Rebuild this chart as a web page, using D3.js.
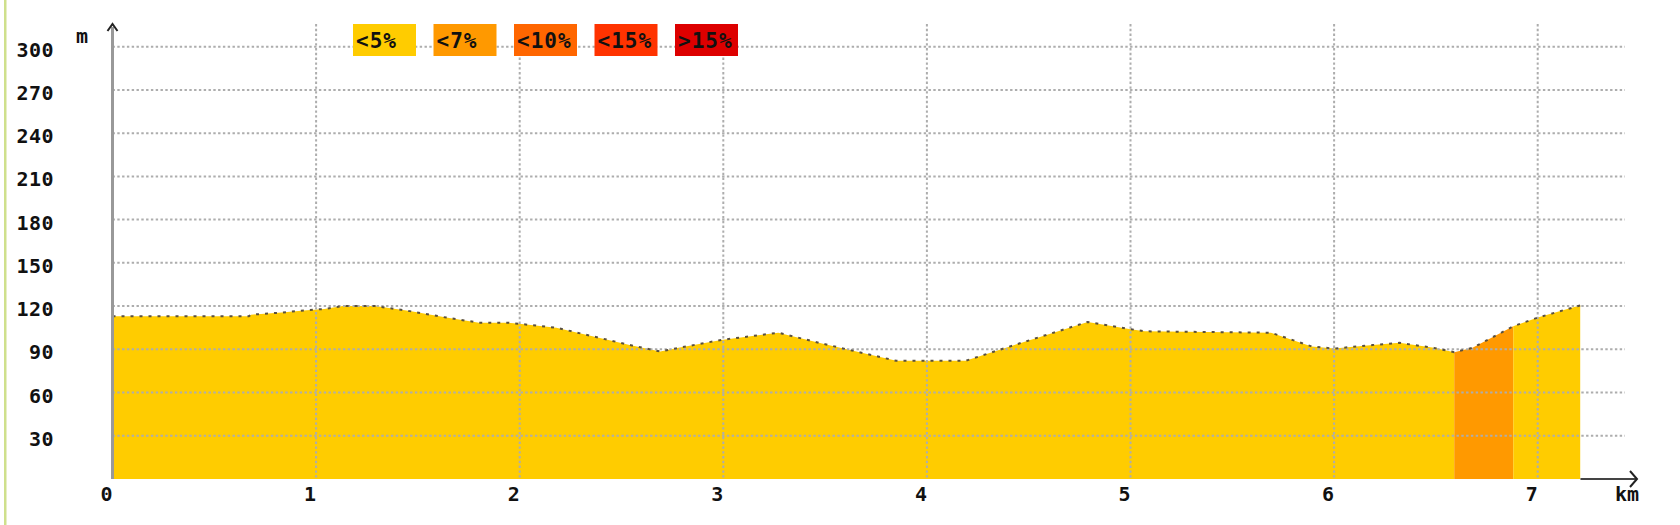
<!DOCTYPE html>
<html><head><meta charset="utf-8">
<script src="https://cdn.jsdelivr.net/npm/d3@7"></script>
<style>body{margin:0;background:#fff;overflow:hidden}</style></head>
<body><svg id="c" width="1680" height="525"></svg>
<script>
const distKm = [0, 0.67, 0.68, 0.83, 0.94, 1.04, 1.13, 1.29, 1.46, 1.64, 1.80, 1.94, 2.01, 2.18, 2.54, 2.69, 2.78, 2.99, 3.27, 3.50, 3.85, 4.19, 4.43, 4.79, 5.00, 5.07, 5.69, 5.89, 6.00, 6.19, 6.32, 6.49, 6.59, 6.68, 6.88, 7.00, 7.21];
const elevM  = [113, 113, 114, 115.5, 117, 118, 120, 120, 116.5, 112, 108.5, 108.5, 107.5, 105, 93, 88.5, 91, 96.5, 101.5, 93.5, 82, 82, 93, 109, 104, 102.5, 101.5, 92, 90.5, 93, 94.5, 91, 88, 91, 106, 112, 120.5];
const yTicks = [30, 60, 90, 120, 150, 180, 210, 240, 270, 300];
const xTicks = [0, 1, 2, 3, 4, 5, 6, 7];
const segStart = [0, 6.59, 6.88];
const segEnd   = [6.59, 6.88, 7.21];
const segClass = [0, 1, 0];
const legendLabels = ["<5%", "<7%", "<10%", "<15%", ">15%"];
const legendColors = ["#ffcc00", "#ff9900", "#ff6600", "#ff3300", "#dd0000"];

const svg = d3.select("#c");
const x = d3.scaleLinear().domain([0, 7]).range([112.5, 1537.7]);
const y = d3.scaleLinear().domain([0, 300]).range([479, 46.7]);
const font = "'DejaVu Sans Mono', monospace";

// left border
svg.append("rect").attr("x", 4).attr("y", 0).attr("width", 2.5).attr("height", 525).attr("fill", "#cfe08c");

const pts = distKm.map((d, i) => [d, elevM[i]]);
const area = d3.area().x(d => x(d[0])).y0(y(0)).y1(d => y(d[1]));

// filled profile by gradient class
const defs = svg.append("defs");
segStart.forEach((s, i) => {
  defs.append("clipPath").attr("id", "seg" + i).append("rect")
    .attr("x", x(s)).attr("y", 0).attr("width", x(segEnd[i]) - x(s)).attr("height", 525);
  svg.append("path").datum(pts).attr("d", area)
    .attr("fill", legendColors[segClass[i]]).attr("clip-path", `url(#seg${i})`);
});

// grid
const g = svg.append("g");
g.selectAll("line.h").data(yTicks).join("line")
  .attr("x1", x(0)).attr("x2", 1625).attr("y1", d => y(d)).attr("y2", d => y(d))
  .attr("stroke", "#adadad").attr("stroke-width", 2).attr("stroke-dasharray", "2.4,2.4");
g.selectAll("line.v").data(xTicks.slice(1)).join("line")
  .attr("x1", d => x(d)).attr("x2", d => x(d)).attr("y1", 24).attr("y2", y(0))
  .attr("stroke", "#adadad").attr("stroke-width", 2).attr("stroke-dasharray", "2.4,2.4");

// profile outline
svg.append("path").datum(pts).attr("d", d3.line().x(d => x(d[0])).y(d => y(d[1])))
  .attr("fill", "none").attr("stroke", "#5a5040").attr("stroke-width", 2).attr("stroke-dasharray", "3,6");

// y axis
svg.append("line").attr("x1", x(0)).attr("x2", x(0)).attr("y1", 27).attr("y2", y(0))
  .attr("stroke", "#999").attr("stroke-width", 3);
svg.append("path").attr("d", `M${x(0)-5},31 L${x(0)},24 L${x(0)+5},31`)
  .attr("fill", "none").attr("stroke", "#222").attr("stroke-width", 2);
// x axis arrow
const xEnd = x(distKm[distKm.length - 1]);
svg.append("line").attr("x1", xEnd).attr("x2", 1636).attr("y1", y(0)).attr("y2", y(0))
  .attr("stroke", "#444").attr("stroke-width", 2);
svg.append("path").attr("d", `M1630,471 L1637,479 L1630,487`)
  .attr("fill", "none").attr("stroke", "#222").attr("stroke-width", 2);

// tick labels
svg.selectAll("text.yl").data(yTicks).join("text")
  .attr("x", 54).attr("y", d => y(d) + 10).attr("text-anchor", "end")
  .attr("font-family", font).attr("font-weight", "bold").attr("font-size", 20)
  .attr("letter-spacing", 0.5).attr("fill", "#111").text(d => d);
svg.selectAll("text.xl").data(xTicks).join("text")
  .attr("x", d => x(d) - 6).attr("y", 501).attr("text-anchor", "middle")
  .attr("font-family", font).attr("font-weight", "bold").attr("font-size", 20)
  .attr("fill", "#111").text(d => d);
svg.append("text").attr("x", 82).attr("y", 43).attr("text-anchor", "middle")
  .attr("font-family", font).attr("font-weight", "bold").attr("font-size", 20).attr("fill", "#111").text("m");
svg.append("text").attr("x", 1627).attr("y", 501).attr("text-anchor", "middle")
  .attr("font-family", font).attr("font-weight", "bold").attr("font-size", 20).attr("fill", "#111").text("km");

// legend
const lg = svg.selectAll("g.lg").data(legendLabels).join("g")
  .attr("transform", (d, i) => `translate(${353 + i * 80.5},24)`);
lg.append("rect").attr("width", 63).attr("height", 32).attr("fill", (d, i) => legendColors[i]);
lg.append("text").attr("x", 3).attr("y", 24)
  .attr("font-family", font).attr("font-weight", "bold").attr("font-size", 21)
  .attr("letter-spacing", 1).attr("fill", "#111").text(d => d);
</script></body></html>
